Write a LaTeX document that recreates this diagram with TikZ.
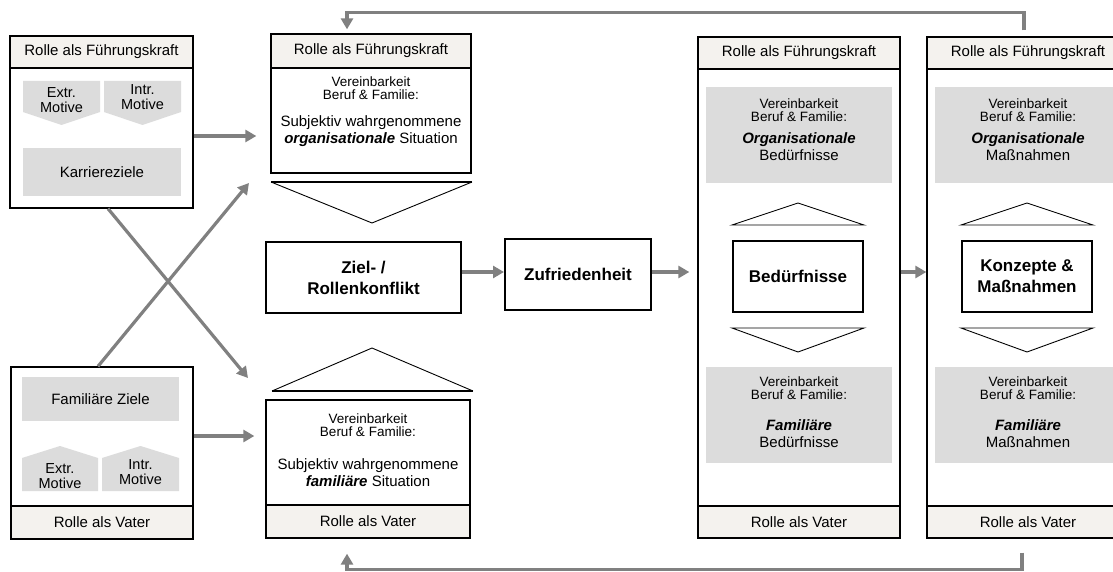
\documentclass[tikz,border=0pt]{standalone}
\usepackage{fontspec}
\setmainfont{Liberation Sans}
\usetikzlibrary{arrows.meta}
\definecolor{headfill}{RGB}{244,242,238}
\definecolor{panelgray}{RGB}{220,220,220}
\definecolor{linkgray}{RGB}{128,128,128}

% rectangle node given by its corners: \rnode[style]{name}{x1}{y1}{x2}{y2}{text}
\newcommand\rnode[7][]{%
  \node[#1, inner sep=0pt, minimum width={(#5-#3)*1pt}, minimum height={(#6-#4)*1pt}]
    (#2) at ({(#3+#5)/2},{(#4+#6)/2}) {#7};}

\begin{document}
\begin{tikzpicture}[x=1pt,y=-1pt,
  frame/.style={draw, line width=1.3pt, fill=white},
  band/.style={draw, line width=1.1pt, fill=headfill, font=\fontsize{15}{17}\selectfont},
  panel/.style={fill=panelgray, align=center, font=\fontsize{15}{17}\selectfont},
  keybox/.style={draw, line width=2pt, fill=white, align=center, font=\fontsize{17}{21}\selectfont\bfseries},
  small/.style={align=center, font=\fontsize{13.5}{13.5}\selectfont},
  body/.style={align=center, font=\fontsize{15}{17}\selectfont},
  motive/.style={align=center, font=\fontsize{14.5}{15.5}\selectfont},
  link/.style={draw=linkgray, line width=3.2pt, -{Triangle[length=11pt,width=12pt]}},
  chev/.style={draw, line width=0.9pt},
]
\useasboundingbox (0,0) rectangle (1113,572);

% ---- left column: role as manager
\rnode[frame]{L1}{10}{36}{193}{208}{}
\rnode[band]{L1h}{10}{36}{193}{68}{Rolle als Führungskraft}
\fill[panelgray] (23,81) -- (100,81) -- (100,112) -- (61.5,125) -- (23,112) -- cycle;
\node[motive] (L1ext) at (61.5,100) {Extr.\\Motive};
\fill[panelgray] (104,81) -- (181,81) -- (181,112) -- (142.5,125) -- (104,112) -- cycle;
\node[motive] (L1int) at (142.5,97) {Intr.\\Motive};
\rnode[panel]{L1k}{23}{148}{181}{196}{Karriereziele}

% ---- left column: role as father
\rnode[frame]{L2}{11}{367}{193}{539}{}
\rnode[band]{L2f}{11}{506}{193}{539}{Rolle als Vater}
\rnode[panel]{L2z}{22}{377}{179}{421}{Familiäre Ziele}
\fill[panelgray] (22,458) -- (60,446) -- (98,458) -- (98,491) -- (22,491) -- cycle;
\node[motive] (L2ext) at (60,476) {Extr.\\Motive};
\fill[panelgray] (102,458) -- (140.5,446) -- (179,458) -- (179,491) -- (102,491) -- cycle;
\node[motive] (L2int) at (140.5,472) {Intr.\\Motive};

% ---- middle column
\rnode[frame]{M1}{271}{34}{471}{173}{}
\rnode[band]{M1h}{271}{34}{471}{68}{Rolle als Führungskraft}
\node[small] (M1a) at (371,88) {Vereinbarkeit\\Beruf \& Familie:};
\node[body] (M1b) at (371,131) {Subjektiv wahrgenommene\\\textbf{\textit{organisationale}} Situation};
\draw[chev] (271,182) -- (372,223) -- (472,182);
\draw[line width=2.2pt] (271,182) -- (472,182);

\rnode[keybox]{ZK}{266}{242}{461}{313}{Ziel- /\\Rollenkonflikt}

\draw[chev] (272,391) -- (372,348) -- (473,391);
\draw[line width=2.2pt] (272,391) -- (473,391);
\rnode[frame]{M2}{266}{400}{470}{538}{}
\rnode[band]{M2f}{266}{505}{470}{538}{Rolle als Vater}
\node[small] (M2a) at (368,425) {Vereinbarkeit\\Beruf \& Familie:};
\node[body] (M2b) at (368,473) {Subjektiv wahrgenommene\\\textbf{\textit{familiäre}} Situation};

\rnode[keybox]{ZF}{505}{239}{651}{310}{Zufriedenheit}

% ---- needs
\rnode[frame]{R1}{698}{37}{900}{538}{}
\rnode[band]{R1h}{698}{37}{900}{69}{Rolle als Führungskraft}
\rnode[band]{R1f}{698}{506}{900}{538}{Rolle als Vater}
\rnode[panel]{R1o}{706}{87}{892}{183}{}
\node[small] (R1oa) at (799,110) {Vereinbarkeit\\Beruf \& Familie:};
\node[body] (R1ob) at (799,147) {\textbf{\textit{Organisationale}}\\Bedürfnisse};
\draw[chev] (732,225) -- (798,203) -- (864,225) -- cycle;
\rnode[keybox]{R1k}{733}{241}{863}{312}{Bedürfnisse}
\draw[chev] (732,328) -- (864,328) -- (798,352) -- cycle;
\rnode[panel]{R1u}{706}{367}{892}{463}{}
\node[small] (R1ua) at (799,388) {Vereinbarkeit\\Beruf \& Familie:};
\node[body] (R1ub) at (799,434) {\textbf{\textit{Familiäre}}\\Bedürfnisse};

% ---- measures
\rnode[frame]{R2}{927}{37}{1129}{538}{}
\rnode[band]{R2h}{927}{37}{1129}{69}{Rolle als Führungskraft}
\rnode[band]{R2f}{927}{506}{1129}{538}{Rolle als Vater}
\rnode[panel]{R2o}{935}{87}{1121}{183}{}
\node[small] (R2oa) at (1028,110) {Vereinbarkeit\\Beruf \& Familie:};
\node[body] (R2ob) at (1028,147) {\textbf{\textit{Organisationale}}\\Maßnahmen};
\draw[chev] (961,225) -- (1027,203) -- (1093,225) -- cycle;
\rnode[keybox]{R2k}{962}{241}{1092}{312}{Konzepte \&\\Maßnahmen}
\draw[chev] (961,328) -- (1093,328) -- (1027,352) -- cycle;
\rnode[panel]{R2u}{935}{367}{1121}{463}{}
\node[small] (R2ua) at (1028,388) {Vereinbarkeit\\Beruf \& Familie:};
\node[body] (R2ub) at (1028,434) {\textbf{\textit{Familiäre}}\\Maßnahmen};

% ---- connectors
\coordinate (M1in) at (249,183);
\coordinate (M2in) at (248,378);
\draw[link, shorten >=14pt] (L1.east |- 0,136) -- (M1.west |- 0,136);
\draw[link, shorten >=11pt] (L2.east |- 0,436) -- (M2.west |- 0,436);
\draw[link] (L1.south -| 108,0) -- (M2in);
\draw[link] (L2.north -| 98,0) -- (M1in);
\draw[link] (ZK.east |- 0,272) -- (ZF.west |- 0,272);
\draw[link, shorten >=8pt] (ZF.east |- 0,272) -- (R1.west |- 0,272);
\draw[link] (R1.east |- 0,272) -- (R2.west |- 0,272);
\draw[link] ([xshift=-4pt,yshift=6pt]R2.north) -- ++(0,-18) -| ([xshift=-24pt,yshift=4pt]M1.north);
\draw[link] ([xshift=-6pt,yshift=-14pt]R2.south) -- ++(0,17) -| ([xshift=-21pt,yshift=-15pt]M2.south);
\end{tikzpicture}
\end{document}
